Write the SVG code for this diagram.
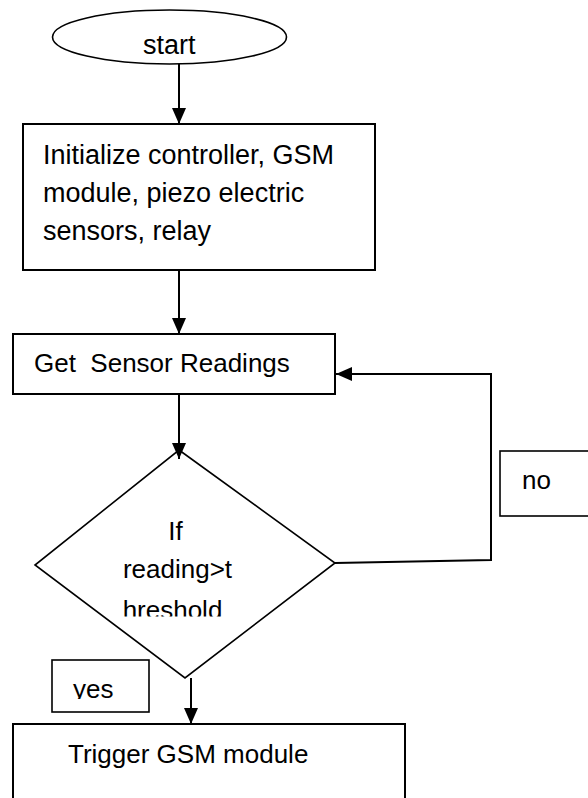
<svg xmlns="http://www.w3.org/2000/svg" width="588" height="798" viewBox="0 0 588 798">
<style>
.shape{fill:#fff;stroke:#000;stroke-width:2}
.thin{fill:#fff;stroke:#000;stroke-width:1.6}
.lbl{font-family:"Liberation Sans",Arial,sans-serif;font-size:26px;fill:#000}
.conn{fill:none;stroke:#000;stroke-width:2}
</style>
<defs>
<marker id="arr" viewBox="0 0 16 14" refX="16" refY="7" markerWidth="16" markerHeight="14" markerUnits="userSpaceOnUse" orient="auto">
<path d="M0,0 L16,7 L0,14 z" fill="#000"/>
</marker>
<clipPath id="clipDia"><rect x="0" y="0" width="588" height="616.5"/></clipPath>
<clipPath id="clipYes"><rect x="0" y="0" width="588" height="699"/></clipPath>
</defs>
<rect width="588" height="798" fill="#fff"/>

<g id="start">
<ellipse class="thin" cx="169.5" cy="37" rx="117" ry="27"/>
<text class="lbl" x="143" y="54" style="font-size:27px">start</text>
</g>

<g id="init">
<rect class="shape" x="23" y="124" width="352" height="146"/>
<text class="lbl" x="43" y="164" style="font-size:27px">Initialize controller, GSM</text>
<text class="lbl" x="43" y="202" style="font-size:27px">module, piezo electric</text>
<text class="lbl" x="43" y="240" style="font-size:27px">sensors, relay</text>
</g>

<g id="read">
<rect class="shape" x="13" y="334" width="322" height="60"/>
<text class="lbl" x="34" y="372" xml:space="preserve">Get  Sensor Readings</text>
</g>

<g id="decision">
<polygon class="thin" points="179,450 335,563 185,678 35,565"/>
<g clip-path="url(#clipDia)" text-anchor="middle">
<text class="lbl" x="175.5" y="540">If</text>
<text class="lbl" x="177.5" y="578">reading&gt;t</text>
<text class="lbl" x="172.5" y="619">hreshold</text>
</g>
</g>

<g id="no">
<rect class="thin" x="500" y="451" width="100" height="65"/>
<text class="lbl" x="522" y="489">no</text>
</g>

<g id="yes">
<rect class="thin" x="52" y="660" width="97" height="52"/>
<text class="lbl" x="73" y="698" clip-path="url(#clipYes)">yes</text>
</g>

<g id="trigger">
<rect class="shape" x="13" y="724" width="392" height="100"/>
<text class="lbl" x="68" y="763">Trigger GSM module</text>
</g>

<g id="connectors">
<line class="conn" x1="179" y1="64" x2="179" y2="124" marker-end="url(#arr)"/>
<line class="conn" x1="179" y1="270" x2="179" y2="334" marker-end="url(#arr)"/>
<line class="conn" x1="179" y1="394" x2="179" y2="459" marker-end="url(#arr)"/>
<polyline class="conn" points="335,563 491,560 491,374 336,374" marker-end="url(#arr)"/>
<line class="conn" x1="191" y1="678" x2="191" y2="724" marker-end="url(#arr)"/>
</g>
</svg>
